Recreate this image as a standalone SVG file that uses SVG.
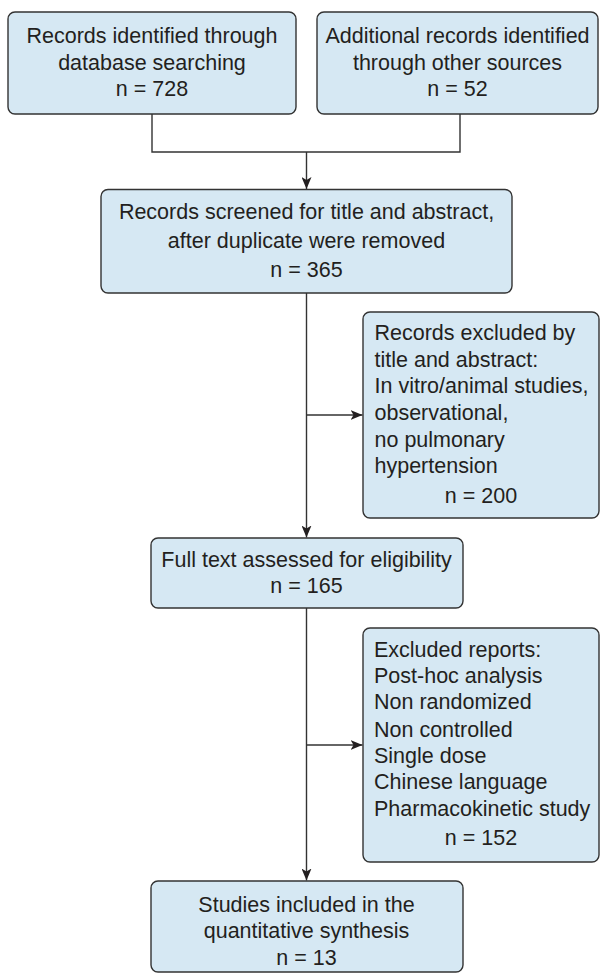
<svg xmlns="http://www.w3.org/2000/svg" width="600" height="979" viewBox="0 0 600 979">
<defs>
<style>
.box{fill:#d6e8f3;stroke:#333;stroke-width:1.4}
.t{font-family:"Liberation Sans",Arial,sans-serif;font-size:21.5px;fill:#231f20}
.c{text-anchor:middle}
.ln{fill:none;stroke:#333;stroke-width:1.4}
</style>
<marker id="ah" markerUnits="userSpaceOnUse" markerWidth="12" markerHeight="10" refX="12" refY="5" orient="auto">
<path d="M0,0 L12,5 L0,10 L3,5 z" fill="#231f20"/>
</marker>
</defs>
<g id="connectors">
<path class="ln" d="M152,114 V152 H460 V114"/>
<path class="ln" d="M306.5,152 V189" marker-end="url(#ah)"/>
<path class="ln" d="M306.5,293 V537.5" marker-end="url(#ah)"/>
<path class="ln" d="M306.5,415 H362.5" marker-end="url(#ah)"/>
<path class="ln" d="M306.5,608 V880.5" marker-end="url(#ah)"/>
<path class="ln" d="M306.5,745 H362.5" marker-end="url(#ah)"/>
</g>
<g id="n1">
<rect class="box" x="8" y="12" width="288" height="102" rx="7"/>
<text class="t c" x="152" y="43">Records identified through</text>
<text class="t c" x="152" y="70">database searching</text>
<text class="t c" x="152" y="96">n = 728</text>
</g>
<g id="n2">
<rect class="box" x="317" y="12" width="281" height="102" rx="7"/>
<text class="t c" x="457.5" y="43">Additional records identified</text>
<text class="t c" x="457.5" y="70">through other sources</text>
<text class="t c" x="457.5" y="96">n = 52</text>
</g>
<g id="n3">
<rect class="box" x="101" y="189.5" width="411" height="103.5" rx="7"/>
<text class="t c" x="306.5" y="219">Records screened for title and abstract,</text>
<text class="t c" x="306.5" y="248">after duplicate were removed</text>
<text class="t c" x="306.5" y="277">n = 365</text>
</g>
<g id="n4">
<rect class="box" x="363" y="312" width="236" height="206" rx="7"/>
<text class="t" x="374.5" y="340">Records excluded by</text>
<text class="t" x="374.5" y="366.7">title and abstract:</text>
<text class="t" x="374.5" y="393.3">In vitro/animal studies,</text>
<text class="t" x="374.5" y="420">observational,</text>
<text class="t" x="374.5" y="446.7">no pulmonary</text>
<text class="t" x="374.5" y="473.3">hypertension</text>
<text class="t c" x="481" y="503.3">n = 200</text>
</g>
<g id="n5">
<rect class="box" x="151" y="538" width="312" height="70" rx="7"/>
<text class="t c" x="306.5" y="566.7">Full text assessed for eligibility</text>
<text class="t c" x="306.5" y="592.7">n = 165</text>
</g>
<g id="n6">
<rect class="box" x="363" y="628" width="236" height="234" rx="7"/>
<text class="t" x="374" y="656.7">Excluded reports:</text>
<text class="t" x="374" y="682.7">Post-hoc analysis</text>
<text class="t" x="374" y="709.3">Non randomized</text>
<text class="t" x="374" y="736.7">Non controlled</text>
<text class="t" x="374" y="762.7">Single dose</text>
<text class="t" x="374" y="789.3">Chinese language</text>
<text class="t" x="374" y="816">Pharmacokinetic study</text>
<text class="t c" x="481" y="845">n = 152</text>
</g>
<g id="n7">
<rect class="box" x="151" y="881" width="312" height="91" rx="7"/>
<text class="t c" x="306.5" y="911.7">Studies included in the</text>
<text class="t c" x="306.5" y="938.3">quantitative synthesis</text>
<text class="t c" x="306.5" y="965">n = 13</text>
</g>
</svg>
